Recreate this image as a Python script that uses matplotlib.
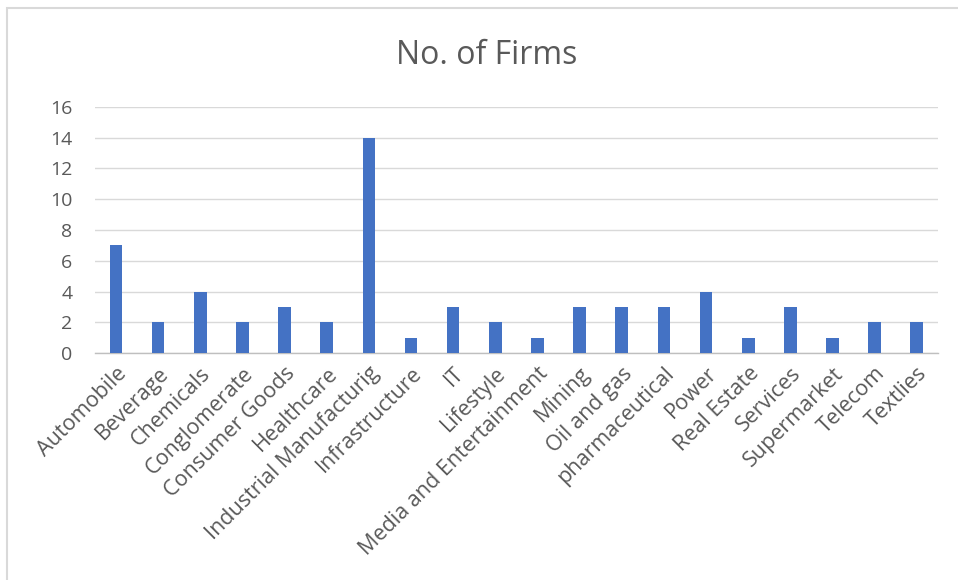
import matplotlib.pyplot as plt
from matplotlib.patches import Rectangle

categories = ['Automobile', 'Beverage', 'Chemicals', 'Conglomerate', 'Consumer Goods',
              'Healthcare', 'Industrial Manufacturig', 'Infrastructure', 'IT', 'Lifestyle',
              'Media and Entertainment', 'Mining', 'Oil and gas', 'pharmaceutical', 'Power',
              'Real Estate', 'Services', 'Supermarket', 'Telecom', 'Textlies']
firms = [7, 2, 4, 2, 3, 2, 14, 1, 3, 2, 1, 3, 3, 3, 4, 1, 3, 1, 2, 2]
yticks = list(range(0, 17, 2))

plt.rcParams['font.family'] = ['Open Sans', 'DejaVu Sans']
text_color = '#595959'

fig = plt.figure(figsize=(9.58, 5.8), dpi=100)
ax = fig.add_axes([0.099, 0.391, 0.88, 0.425])

x = range(len(categories))
ax.bar(x, firms, width=0.3, color='#4472C4', zorder=3)

ax.set_xlim(-0.5, len(categories) - 0.5)
ax.set_ylim(0, 16)
ax.set_yticks(yticks)
ax.set_yticklabels([str(v) for v in yticks], fontsize=14, color=text_color)
ax.set_xticks(list(x))
ax.set_xticklabels(categories, rotation=45, ha='right', rotation_mode='anchor',
                   fontsize=15.5, color=text_color)
ax.tick_params(axis='both', length=0)
ax.tick_params(axis='y', pad=16)
ax.tick_params(axis='x', pad=7)

ax.grid(axis='y', color='#d9d9d9', linewidth=1, zorder=0)
for side in ['top', 'right', 'left']:
    ax.spines[side].set_visible(False)
ax.spines['bottom'].set_color('#bfbfbf')
ax.spines['bottom'].set_linewidth(1)

fig.text(0.508, 0.905, 'No. of Firms', ha='center', va='center', fontsize=23,
         color=text_color)

# chart frame
fig.patches.append(Rectangle((7 / 958, -0.1), 1.2, 1 - 8 / 580 + 0.1,
                             transform=fig.transFigure, fill=False,
                             edgecolor='#d9d9d9', linewidth=1.5))

fig.savefig('out.png', dpi=100)
